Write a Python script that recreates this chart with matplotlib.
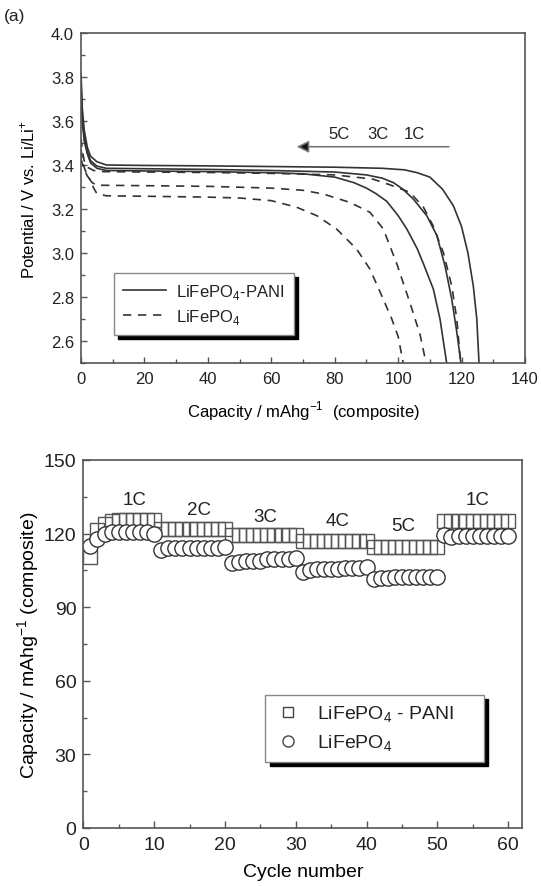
import numpy as np
import matplotlib.pyplot as plt
from matplotlib.lines import Line2D
from matplotlib.ticker import MultipleLocator

plt.rcParams['font.family'] = ['Liberation Sans', 'DejaVu Sans']
plt.rcParams['text.color'] = '#222222'
plt.rcParams['mathtext.fontset'] = 'custom'
plt.rcParams['mathtext.rm'] = 'Liberation Sans'

# (a) discharge curves: capacity (mAh/g) vs potential (V)
cap_pani_1c = [0, 0.4, 1, 2, 3, 5, 8, 20, 40, 60, 80, 95, 102, 106, 110, 114, 117.4, 120, 122, 123.7, 124.8, 125.5]
v_pani_1c = [3.82, 3.66, 3.56, 3.48, 3.44, 3.415, 3.40, 3.398, 3.396, 3.393, 3.39, 3.385, 3.378, 3.365, 3.345, 3.29, 3.215, 3.12, 3.0, 2.85, 2.70, 2.5]

cap_pani_3c = [0, 0.4, 1, 2, 3, 5, 8, 20, 40, 60, 80, 90, 95, 98.5, 101.5, 104.8, 109, 112.2, 114.8, 116.9, 118.5, 119.8]
v_pani_3c = [3.78, 3.62, 3.53, 3.46, 3.42, 3.395, 3.385, 3.383, 3.38, 3.375, 3.368, 3.355, 3.34, 3.32, 3.29, 3.245, 3.17, 3.08, 2.94, 2.79, 2.64, 2.5]

cap_pani_5c = [0, 0.4, 1, 2, 3, 5, 8, 20, 40, 60, 70, 80, 86, 90, 93, 96.4, 100, 102.7, 106, 108, 111.1, 113.2, 115.3]
v_pani_5c = [3.74, 3.6, 3.51, 3.45, 3.41, 3.385, 3.375, 3.373, 3.37, 3.365, 3.36, 3.345, 3.32, 3.295, 3.27, 3.235, 3.17, 3.11, 3.02, 2.95, 2.836, 2.70, 2.5]

cap_lfp_1c = [0, 0.5, 1, 2, 4, 7, 20, 40, 60, 80, 92, 97.4, 103.7, 108, 111, 114.3, 116.9, 118.5, 119.7]
v_lfp_1c = [3.52, 3.46, 3.42, 3.39, 3.375, 3.37, 3.368, 3.366, 3.362, 3.355, 3.336, 3.31, 3.276, 3.208, 3.124, 3.0, 2.85, 2.70, 2.5]

cap_lfp_3c = [0, 0.5, 1, 2, 3.5, 5, 20, 40, 60, 70, 76.4, 84.8, 91.1, 95.3, 99.6, 103.8, 106.9, 108.8]
v_lfp_3c = [3.47, 3.42, 3.39, 3.35, 3.32, 3.308, 3.306, 3.303, 3.295, 3.285, 3.268, 3.23, 3.185, 3.11, 2.95, 2.77, 2.63, 2.5]

cap_lfp_5c = [0, 0.5, 1, 2, 2.8, 4, 5, 8, 20, 40, 50, 60, 68, 74.3, 80.6, 86.9, 91.1, 95, 98, 100, 101.6]
v_lfp_5c = [3.43, 3.40, 3.38, 3.35, 3.335, 3.295, 3.27, 3.26, 3.258, 3.254, 3.25, 3.238, 3.208, 3.17, 3.109, 3.018, 2.927, 2.80, 2.70, 2.62, 2.5]

# (b) rate capability: capacity per cycle
cycles = np.arange(1, 61)
cap_pani = [110.5, 121.5, 124, 125, 125.5, 125.5, 125.5, 125.5, 125.5, 125.5,
            122, 122, 122, 122, 122, 122, 122, 122, 122, 122,
            119.5, 119.5, 119.5, 119.5, 119.5, 119.5, 119.5, 119.5, 119.5, 119.5,
            117, 117, 117, 117, 117, 117, 117, 117, 117, 117,
            114.5, 114.5, 114.5, 114.5, 114.5, 114.5, 114.5, 114.5, 114.5, 114.5,
            125, 125, 125, 125, 125, 125, 125, 125, 125, 125]
cap_lfp = [115, 118, 120, 120.5, 120.5, 120.5, 120.5, 120.5, 120.5, 120,
           113.5, 114, 114, 114, 114, 114, 114, 114, 114, 114.5,
           108, 108.5, 109, 109, 109, 109.5, 109.5, 109.5, 109.5, 110,
           104.5, 105, 105.5, 105.5, 105.5, 105.5, 106, 106, 106, 106.5,
           101.5, 102, 102, 102.5, 102.5, 102.5, 102.5, 102.5, 102.5, 102.5,
           119.5, 118.5, 119, 119, 119, 119, 119, 119, 119, 119]
rate_labels = ['1C', '2C', '3C', '4C', '5C', '1C']
rate_x = [7.2, 16.4, 25.7, 35.9, 45.2, 55.7]
rate_y = [134, 130, 127, 125.2, 123.2, 134]

line_col = '#333333'
spine_col = '#555555'

fig = plt.figure(figsize=(5.41, 8.87), dpi=100)
ax1 = fig.add_axes([81 / 541, 1 - 364 / 887, 444 / 541, 330 / 887])
ax2 = fig.add_axes([83.3 / 541, 1 - 829 / 887, 439 / 541, 368 / 887])

# top panel
ax1.plot(cap_pani_1c, v_pani_1c, '-', color=line_col, lw=1.2, label='LiFePO$_4$-PANI')
ax1.plot(cap_pani_3c, v_pani_3c, '-', color=line_col, lw=1.2)
ax1.plot(cap_pani_5c, v_pani_5c, '-', color=line_col, lw=1.2)
ax1.plot(cap_lfp_1c, v_lfp_1c, '--', color=line_col, lw=1.2, dashes=(5, 4), label='LiFePO$_4$')
ax1.plot(cap_lfp_3c, v_lfp_3c, '--', color=line_col, lw=1.2, dashes=(5, 4))
ax1.plot(cap_lfp_5c, v_lfp_5c, '--', color=line_col, lw=1.2, dashes=(5, 4))

ax1.annotate('', xy=(68, 3.483), xytext=(116, 3.483),
             arrowprops=dict(arrowstyle='-|>', color='#777777', fc='#111111',
                             lw=1.2, mutation_scale=18, shrinkA=0, shrinkB=0))
for lab, xx in zip(['5C', '3C', '1C'], [81.5, 93.5, 105]):
    ax1.text(xx, 3.545, lab, fontsize=12, ha='center', va='center')

ax1.set_xlim(0, 140)
ax1.set_ylim(2.5, 4.0)
ax1.xaxis.set_major_locator(MultipleLocator(20))
ax1.xaxis.set_minor_locator(MultipleLocator(10))
ax1.yaxis.set_major_locator(MultipleLocator(0.2))
ax1.yaxis.set_minor_locator(MultipleLocator(0.1))
ax1.tick_params(which='both', direction='in', labelsize=12, colors=spine_col, labelcolor='#222222')
ax1.tick_params(which='major', length=4, width=1)
ax1.tick_params(which='minor', length=3, width=1)
ax1.tick_params(axis='x', pad=6)
ax1.tick_params(axis='y', pad=5)
ax1.set_xlabel('Capacity / mAhg$^{-1}$  (composite)', fontsize=12, labelpad=9)
ax1.set_ylabel('Potential / V vs. Li/Li$^{+}$', fontsize=12, labelpad=9.5)
leg1 = ax1.legend(loc='lower left', bbox_to_anchor=(0.074, 0.085),
                  fancybox=False, shadow={'color': 'black', 'alpha': 1, 'ox': 3, 'oy': -3},
                  fontsize=12, handlelength=2.6, handletextpad=0.6,
                  borderpad=0.55, labelspacing=0.35, borderaxespad=0)
leg1.get_frame().set_edgecolor('#888888')
leg1.get_frame().set_linewidth(1)
fig.text(0.008, 1 - 17 / 887, '(a)', fontsize=12.5, ha='left', va='center')

# bottom panel
ax2.plot(cycles, cap_pani, 's', ms=9.5, mfc='none', mec='#555555', mew=1)
ax2.plot(cycles, cap_lfp, 'o', ms=11, mfc='white', mec='#333333', mew=1)
for lab, xx, yy in zip(rate_labels, rate_x, rate_y):
    ax2.text(xx, yy, lab, fontsize=13.5, ha='center', va='center')

ax2.set_xlim(0, 62)
ax2.set_ylim(0, 150)
ax2.xaxis.set_major_locator(MultipleLocator(10))
ax2.xaxis.set_minor_locator(MultipleLocator(5))
ax2.yaxis.set_major_locator(MultipleLocator(30))
ax2.yaxis.set_minor_locator(MultipleLocator(15))
ax2.tick_params(which='both', direction='in', labelsize=14, colors=spine_col, labelcolor='#222222')
ax2.tick_params(which='major', length=5, width=1)
ax2.tick_params(which='minor', length=3, width=1)
ax2.tick_params(axis='x', pad=6)
ax2.tick_params(axis='y', pad=5)
ax2.set_xlabel('Cycle number', fontsize=14, labelpad=7)
ax2.set_ylabel('Capacity / mAhg$^{-1}$ (composite)', fontsize=14, labelpad=1.5)

handles = [Line2D([], [], ls='none', marker='s', ms=7, mfc='none', mec='#444444'),
           Line2D([], [], ls='none', marker='o', ms=8, mfc='white', mec='#444444')]
leg2 = ax2.legend(handles, ['LiFePO$_4$ - PANI', 'LiFePO$_4$'], loc='lower left',
                  bbox_to_anchor=(0.415, 0.179, 0.497, 0.18), mode='expand',
                  fancybox=False, shadow={'color': 'black', 'alpha': 1, 'ox': 3, 'oy': -3},
                  fontsize=14, handlelength=1.4, handletextpad=0.8,
                  borderpad=0.45, labelspacing=0.45, borderaxespad=0)
leg2.get_frame().set_edgecolor('#888888')
leg2.get_frame().set_linewidth(1)

for ax in (ax1, ax2):
    for sp in ax.spines.values():
        sp.set_color(spine_col)
        sp.set_linewidth(1.2)

fig.savefig('out.png', dpi=100)
